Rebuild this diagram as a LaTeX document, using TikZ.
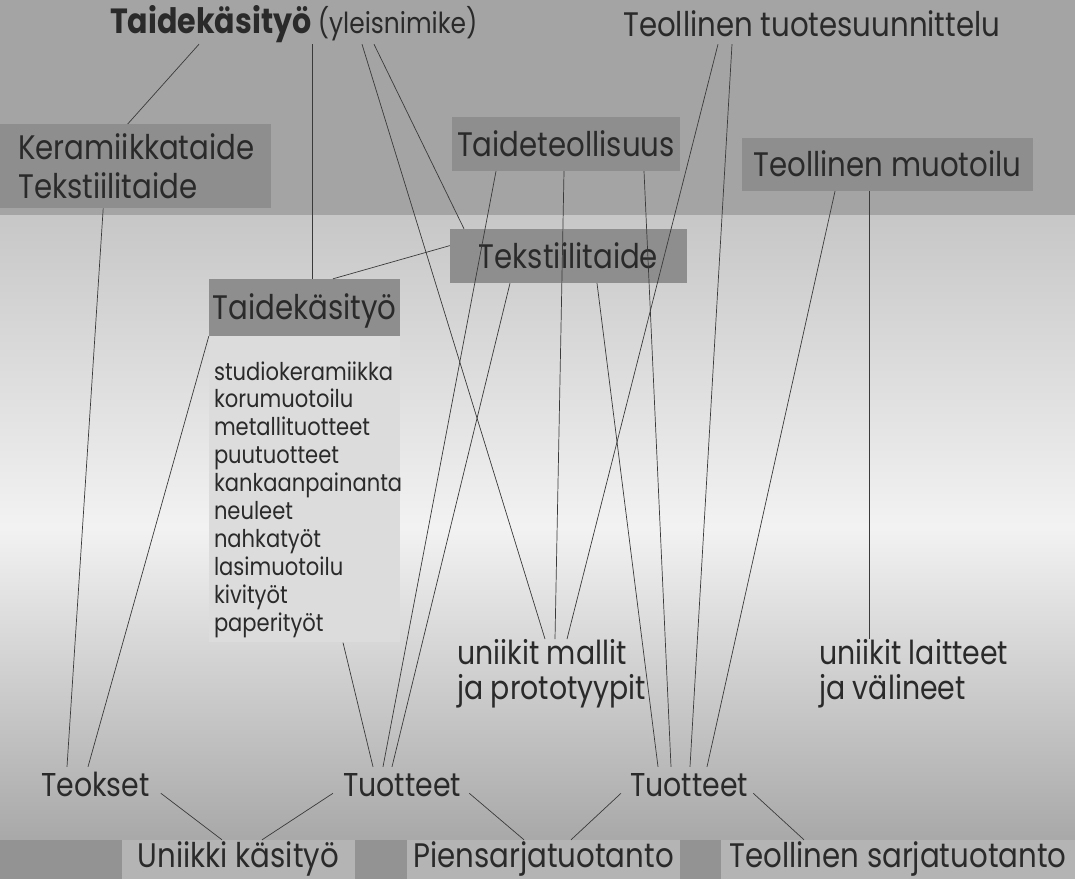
\documentclass[tikz,border=0pt]{standalone}
\usepackage{fontspec}
\setmainfont{Poppins}[FakeStretch=0.86]
\usepackage{tikz}

\definecolor{ink}{HTML}{2A2A2A}
\definecolor{wire}{HTML}{3A3A3A}
\definecolor{paper}{HTML}{A4A4A4}
\definecolor{boxgray}{HTML}{8E8E8E}
\definecolor{listgray}{HTML}{DCDCDC}
\definecolor{footgray}{HTML}{B4B4B4}
\definecolor{banddark}{HTML}{939393}

\begin{document}
\begin{tikzpicture}[x=1pt, y=-1pt,
    big/.style={font=\fontsize{34}{39}\selectfont, text=ink},
    word/.style={font=\fontsize{33}{35}\selectfont, text=ink, inner xsep=0pt, inner ysep=5pt, text height=24pt, text depth=0pt},
    greybox/.style={big, fill=boxgray, inner sep=0pt, text height=24pt, text depth=0pt},
    footbox/.style={big, fill=footgray, inner sep=0pt, minimum height=39pt, text height=24pt, text depth=9pt},
    link/.style={draw=wire, line width=0.7pt}]
    \useasboundingbox (0,0) rectangle (1075,879);

    % Scanned page background
    \fill[paper] (0,0) rectangle (1075,215);
    \shade[top color=white!78!black, bottom color=white!66!black, middle color=white!95!black] (0,215) rectangle (1075,840);
    \fill[banddark] (0,840) rectangle (1075,879);

    % Headings
    \node[anchor=base west, text=ink, inner sep=0pt, text height=24pt, text depth=11pt] (yleis) at (110,33)
        {\fontsize{35}{40}\selectfont\bfseries Taidekäsityö \fontsize{29}{34}\selectfont\mdseries(yleisnimike)};
    \node[anchor=base west, big, inner sep=0pt, text height=24pt, text depth=8pt] (tuotesuun) at (623,36) {Teollinen tuotesuunnittelu};

    % Grey boxes
    \node[big, fill=boxgray, anchor=north west, minimum width=271pt, minimum height=84pt, inner sep=0pt, align=left, text width=235pt] (keram) at (0,124) {Keramiikkataide\\Tekstiilitaide};
    \node[greybox, minimum width=228pt, minimum height=54pt] (taideteol) at (566,144) {Taideteollisuus};
    \node[greybox, minimum width=291pt, minimum height=53pt] (muotoilu) at (887.5,164.5) {Teollinen muotoilu};
    \node[greybox, minimum width=237pt, minimum height=54pt] (tekstiili) at (568.5,256) {Tekstiilitaide};
    \node[greybox, minimum width=191pt, minimum height=57pt] (taidekas) at (304.5,307.5) {Taidekäsityö};

    % List under Taidekäsityö
    \node[fill=listgray, anchor=north, minimum width=191pt, minimum height=306pt, inner sep=0pt] (lajit) at (taidekas.south) {};
    \node[anchor=north west, inner sep=0pt, align=left, text=ink, font=\fontsize{24.5}{27.9}\selectfont] (lista) at ([xshift=5pt,yshift=-25pt]lajit.north west)
        {studiokeramiikka\\korumuotoilu\\metallituotteet\\puutuotteet\\kankaanpainanta\\neuleet\\nahkatyöt\\lasimuotoilu\\kivityöt\\paperityöt};

    % Middle labels
    \node[anchor=north west, inner sep=0pt, align=left, text=ink, font=\fontsize{33}{35}\selectfont] (mallit) at (457,639) {uniikit mallit\\ja prototyypit};
    \node[anchor=north west, inner sep=0pt, align=left, text=ink, font=\fontsize{33}{35}\selectfont] (laitteet) at (819,639) {uniikit laitteet\\ja välineet};

    % Results
    \node[word, anchor=base west] (teokset) at (41,796) {Teokset};
    \node[word, anchor=base west] (tuotteetA) at (343,796) {Tuotteet};
    \node[word, anchor=base west] (tuotteetB) at (630,796) {Tuotteet};

    % Production types
    \node[footbox, minimum width=233pt] (uniikki) at (238.5,859.5) {Uniikki käsityö};
    \node[footbox, minimum width=273pt] (piensarja) at (543.5,859.5) {Piensarjatuotanto};
    \node[footbox, minimum width=354pt] (sarja) at (898,859.5) {Teollinen sarjatuotanto};

    % Lines from the general title
    \draw[link] ([xshift=89pt]yleis.south west) -- ([xshift=-8pt]keram.north);
    \draw[link] ([xshift=202pt]yleis.south west) -- ([xshift=7.5pt]taidekas.north);
    \draw[link] ([xshift=252pt]yleis.south west) -- ([xshift=88pt]mallit.north west);
    \draw[link] ([xshift=264pt]yleis.south west) -- ([xshift=-104.5pt]tekstiili.north);
    \draw[link] ([xshift=95pt]tuotesuun.south west) -- ([xshift=110pt]mallit.north west);
    \draw[link] ([xshift=109pt]tuotesuun.south west) -- ([xshift=60pt]tuotteetB.north west);

    % Lines from the boxes
    \draw[link] ([xshift=-32.5pt]keram.south) -- ([xshift=26pt]teokset.north west);
    \draw[link] ([xshift=-70pt]taideteol.south) -- ([xshift=40pt]tuotteetA.north west);
    \draw[link] ([xshift=-2pt]taideteol.south) -- ([xshift=98pt]mallit.north west);
    \draw[link] ([xshift=78pt]taideteol.south) -- ([xshift=41pt]tuotteetB.north west);
    \draw[link] ([xshift=-52.5pt]muotoilu.south) -- ([xshift=77pt]tuotteetB.north west);
    \draw[link] ([xshift=-18.5pt]muotoilu.south) -- ([xshift=50pt]laitteet.north west);
    \draw[link] (tekstiili.175) -- ([xshift=28.5pt]taidekas.north);
    \draw[link] ([xshift=-58.5pt]tekstiili.south) -- ([xshift=49pt]tuotteetA.north west);
    \draw[link] ([xshift=28.5pt]tekstiili.south) -- ([xshift=28pt]tuotteetB.north west);
    \draw[link] (taidekas.south west) -- ([xshift=47pt]teokset.north west);
    \draw[link] ([xshift=38.5pt]lajit.south) -- ([xshift=30pt]tuotteetA.north west);

    % Lines to production types
    \draw[link] ([xshift=11pt]teokset.mid east) -- ([xshift=-16.5pt]uniikki.north);
    \draw[link] ([xshift=-10pt]tuotteetA.mid west) -- ([xshift=23.5pt]uniikki.north);
    \draw[link] ([xshift=8pt]tuotteetA.mid east) -- ([xshift=-19.5pt]piensarja.north);
    \draw[link] ([xshift=-9pt]tuotteetB.mid west) -- ([xshift=27.5pt]piensarja.north);
    \draw[link] ([xshift=5pt]tuotteetB.mid east) -- ([xshift=-94pt]sarja.north);
\end{tikzpicture}
\end{document}
